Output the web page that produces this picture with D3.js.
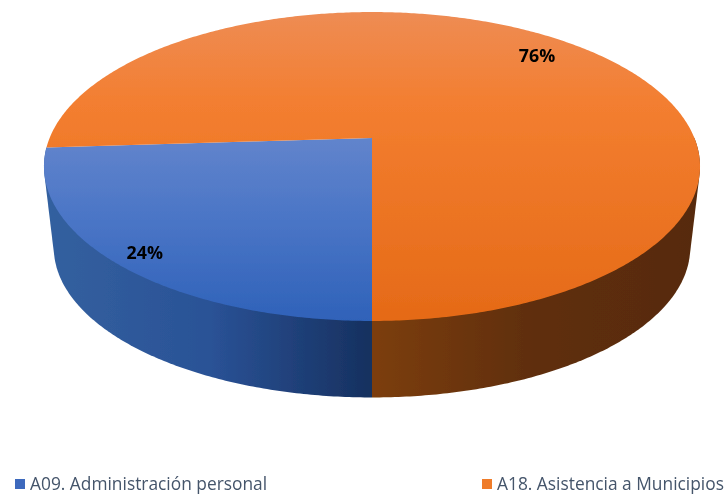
<!DOCTYPE html>
<html><head><meta charset="utf-8">
<script src="https://cdn.jsdelivr.net/npm/d3@7"></script>
<style>html,body{margin:0;padding:0;background:#fff}svg{display:block}</style></head>
<body><svg id="c" width="727" height="496"></svg>
<script>
const categories = ["A09. Administración personal", "A18. Asistencia a Municipios"];
const values = [24, 76];
const labels = ["24%", "76%"];
const topStops = [[[0, "#6184cc"], [0.45, "#4a75c6"], [1, "#2f62b9"]], [[0, "#ee8c54"], [0.3, "#f37e30"], [1, "#e56a17"]]];
const sideStops = [["#33609f", "#2a5296", "#16305f"], ["#7c3e0b", "#5f2e0b", "#572b0b"]];
const swatchColors = ["#3c69bd", "#ef7b2a"];

const svg = d3.select("#c");
const defs = svg.append("defs");
defs.append("filter").attr("id", "soft").append("feGaussianBlur").attr("stdDeviation", 0.35);
const root = svg.append("g").attr("filter", "url(#soft)");
const cx = 372, cy = 138, A = 322.4, a = 149.2, b = 0.1845, depthY = 82, s = 0.97;

const pie = d3.pie().sort(null).value(d => d).startAngle(Math.PI).endAngle(3 * Math.PI);
const arcs = pie(values);

function rim(t, lower) {
  const u = Math.sin(t), v = -Math.cos(t), k = 1 - b * v, f = lower ? s : 1;
  return [cx + f * A * u / k, cy + (lower ? depthY : 0) + f * a * v / k];
}
const line = d3.line();
const sample = (t0, t1) => { const n = Math.ceil(Math.abs(t1 - t0) / 0.01); return d3.range(n + 1).map(i => t0 + (t1 - t0) * i / n); };

const topY = [[139, 321], [12, 321]];
arcs.forEach((d, i) => {
  const g = defs.append("linearGradient").attr("id", "top" + i).attr("gradientUnits", "userSpaceOnUse")
    .attr("x1", 0).attr("x2", 0).attr("y1", topY[i][0]).attr("y2", topY[i][1]);
  topStops[i].forEach(c => g.append("stop").attr("offset", c[0]).attr("stop-color", c[1]));
});
const sideX = [[50, 372], [372, 697]];
arcs.forEach((d, i) => {
  const g = defs.append("linearGradient").attr("id", "side" + i).attr("gradientUnits", "userSpaceOnUse")
    .attr("x1", sideX[i][0]).attr("x2", sideX[i][1]).attr("y1", 0).attr("y2", 0);
  sideStops[i].forEach((c, j) => g.append("stop").attr("offset", j / 2).attr("stop-color", c));
});

// side walls: the longest front-facing stretch of each slice, as a convex outline
const windows = [[Math.PI / 2, 3 * Math.PI / 2], [5 * Math.PI / 2, 7 * Math.PI / 2]];
arcs.forEach((d, i) => {
  const spans = windows.map(w => [Math.max(w[0], d.startAngle), Math.min(w[1], d.endAngle)]);
  const span = spans.reduce((p, c) => (c[1] - c[0] > p[1] - p[0] ? c : p));
  const pts = sample(span[0], span[1]);
  const hull = d3.polygonHull(pts.map(t => rim(t, false)).concat(pts.map(t => rim(t, true))));
  root.append("path").attr("d", line(hull) + "Z").attr("fill", `url(#side${i})`);
});

// top faces
arcs.forEach((d, i) => {
  const pts = sample(d.startAngle, d.endAngle).map(t => rim(t, false));
  root.append("path").attr("d", line([[cx, cy]].concat(pts)) + "Z").attr("fill", `url(#top${i})`);
});

// data labels
const labelPos = [[144.8, 259], [537, 62]];
arcs.forEach((d, i) => {
  root.append("text").attr("x", labelPos[i][0]).attr("y", labelPos[i][1]).attr("text-anchor", "middle")
    .attr("font-family", "'Open Sans'").attr("font-weight", 700).attr("font-size", 17.8).attr("fill", "#000").text(labels[i]);
});

// legend
const legendX = d3.scalePoint().domain(categories).range([15, 482]);
categories.forEach((c, i) => {
  root.append("rect").attr("x", legendX(c)).attr("y", 479).attr("width", 10).attr("height", 10)
    .attr("fill", swatchColors[i]);
  root.append("text").attr("x", legendX(c) + 15).attr("y", 489.5)
    .attr("font-family", "'Open Sans'").attr("font-size", 17.35).attr("fill", "#44546a").text(c);
});
</script></body></html>
